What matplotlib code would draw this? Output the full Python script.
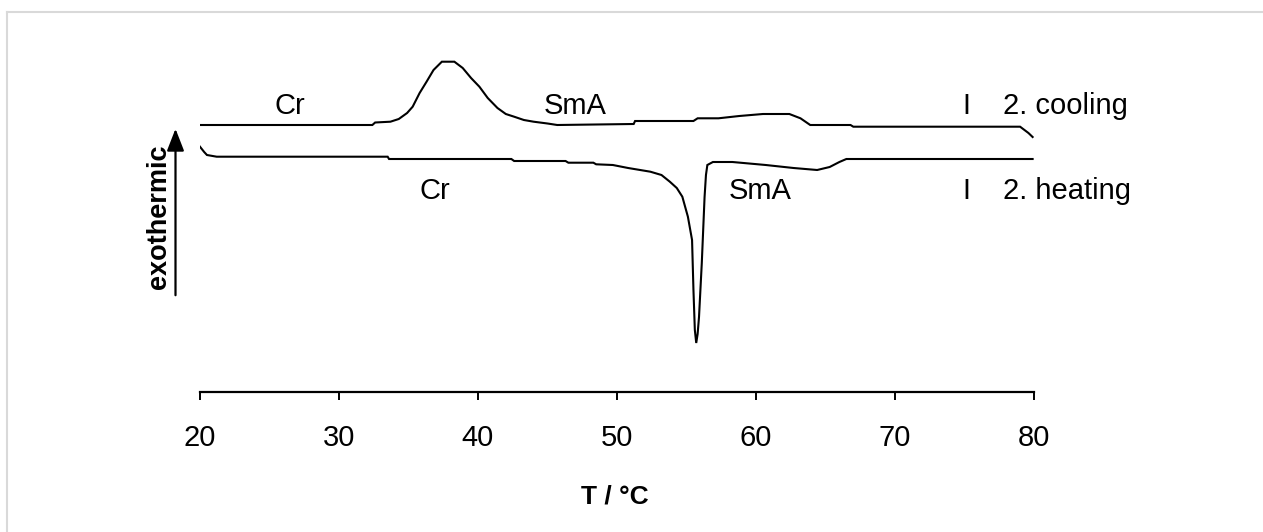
import matplotlib
matplotlib.use("Agg")
import matplotlib.pyplot as plt
from matplotlib.lines import Line2D
from matplotlib.patches import FancyArrowPatch

plt.rcParams['font.family'] = ['Liberation Sans', 'DejaVu Sans']

# ---- data (heat flow in arbitrary units, exothermic up) ----
cool_T = [20.0, 32.4, 32.6, 33.7, 34.3, 34.9, 35.3, 35.8, 36.3, 36.8, 37.4, 38.3,
          38.9, 39.5, 40.1, 40.7, 41.4, 42.0, 42.6, 43.3, 44.0, 45.0, 45.7,
          51.2, 51.3, 55.5, 55.8, 57.3, 58.8, 60.5, 62.4, 63.2, 63.9, 66.8, 67.0,
          79.0, 79.6, 79.9]
cool_Q = [26.7, 26.7, 26.95, 27.03, 27.3, 27.9, 28.53, 29.9, 31.03, 32.2, 33.03, 33.03,
          32.4, 31.4, 30.53, 29.4, 28.4, 27.8, 27.53, 27.2, 27.03, 26.85, 26.7,
          26.8, 27.1, 27.1, 27.37, 27.37, 27.6, 27.8, 27.8, 27.37, 26.7, 26.7, 26.53,
          26.53, 25.9, 25.5]

heat_T = [19.9, 20.3, 20.5, 21.2, 33.5, 33.6, 42.4, 42.6, 46.3, 46.5, 48.3, 48.5,
          49.7, 50.8, 52.4, 53.2, 53.8, 54.3, 54.7, 55.1, 55.4, 55.5, 55.6, 55.7,
          55.8, 55.9, 56.1, 56.3, 56.4, 56.5, 56.9, 58.3, 60.7, 62.7, 64.4, 65.3,
          66.0, 66.5, 79.9]
heat_Q = [24.7, 24.0, 23.7, 23.53, 23.53, 23.3, 23.3, 23.1, 23.1, 22.93, 22.93, 22.77,
          22.7, 22.4, 22.03, 21.7, 21.03, 20.4, 19.53, 17.53, 15.2, 10.2, 6.2, 4.9,
          5.8, 7.5, 12.9, 19.5, 21.7, 22.7, 23.0, 23.0, 22.7, 22.4, 22.2, 22.5,
          23.0, 23.3, 23.3]

xticks = [20, 30, 40, 50, 60, 70, 80]

labels_cool = [("Cr", 26.5), ("SmA", 47.0), ("I", 75.1)]
labels_heat = [("Cr", 36.9), ("SmA", 60.3), ("I", 75.1)]

W, H = 1263, 532
fig = plt.figure(figsize=(W / 100, H / 100), dpi=100)

# axes: x from px 200 to 1034, y from px 40 (top) to 392 (bottom)
ax = fig.add_axes([200 / W, 1 - 392 / H, (1034 - 200) / W, (392 - 40) / H])
ax.set_xlim(20, 80)
ax.set_ylim(0, 35.2)

ax.plot(cool_T, cool_Q, color='black', lw=1.5, solid_joinstyle='miter')
ax.plot(heat_T, heat_Q, color='black', lw=1.5, solid_joinstyle='miter')

for s in ['left', 'right', 'top']:
    ax.spines[s].set_visible(False)
ax.spines['bottom'].set_linewidth(1.6)
ax.set_yticks([])
ax.set_xticks(xticks)
ax.tick_params(axis='x', direction='out', length=6, width=1.4, pad=17,
               labelsize=21)

fsz = 21
for txt, t in labels_cool:
    ax.text(t, 27.85, txt, ha='center', va='baseline', fontsize=fsz)
for txt, t in labels_heat:
    ax.text(t, 19.3, txt, ha='center', va='baseline', fontsize=fsz)
ax.text(77.75, 27.85, "2. cooling", ha='left', va='baseline', fontsize=fsz, clip_on=False)
ax.text(77.75, 19.3, "2. heating", ha='left', va='baseline', fontsize=fsz, clip_on=False)

# x label
fig.text(615 / W, 1 - 504 / H, "T / °C", ha='center', va='baseline',
         fontsize=19, fontweight='bold')

# exothermic label and arrow
fig.text(159 / W, 1 - 217 / H, "exothermic", rotation=90, ha='center', va='center',
         fontsize=19.5, fontweight='bold')
arrow = FancyArrowPatch((175.5 / W, 1 - 298 / H), (175.5 / W, 1 - 126 / H),
                        transform=fig.transFigure, arrowstyle='-|>,head_length=0.9,head_width=0.35',
                        mutation_scale=15, color='black', lw=1.6)
fig.add_artist(arrow)

# light gray frame (top and left edges)
fig.add_artist(Line2D([7 / W, 1], [1 - 12 / H, 1 - 12 / H], transform=fig.transFigure,
                      color='#d9d9d9', lw=1.5))
fig.add_artist(Line2D([7 / W, 7 / W], [0, 1 - 12 / H], transform=fig.transFigure,
                      color='#d9d9d9', lw=1.5))

fig.savefig("out.png", dpi=100)
